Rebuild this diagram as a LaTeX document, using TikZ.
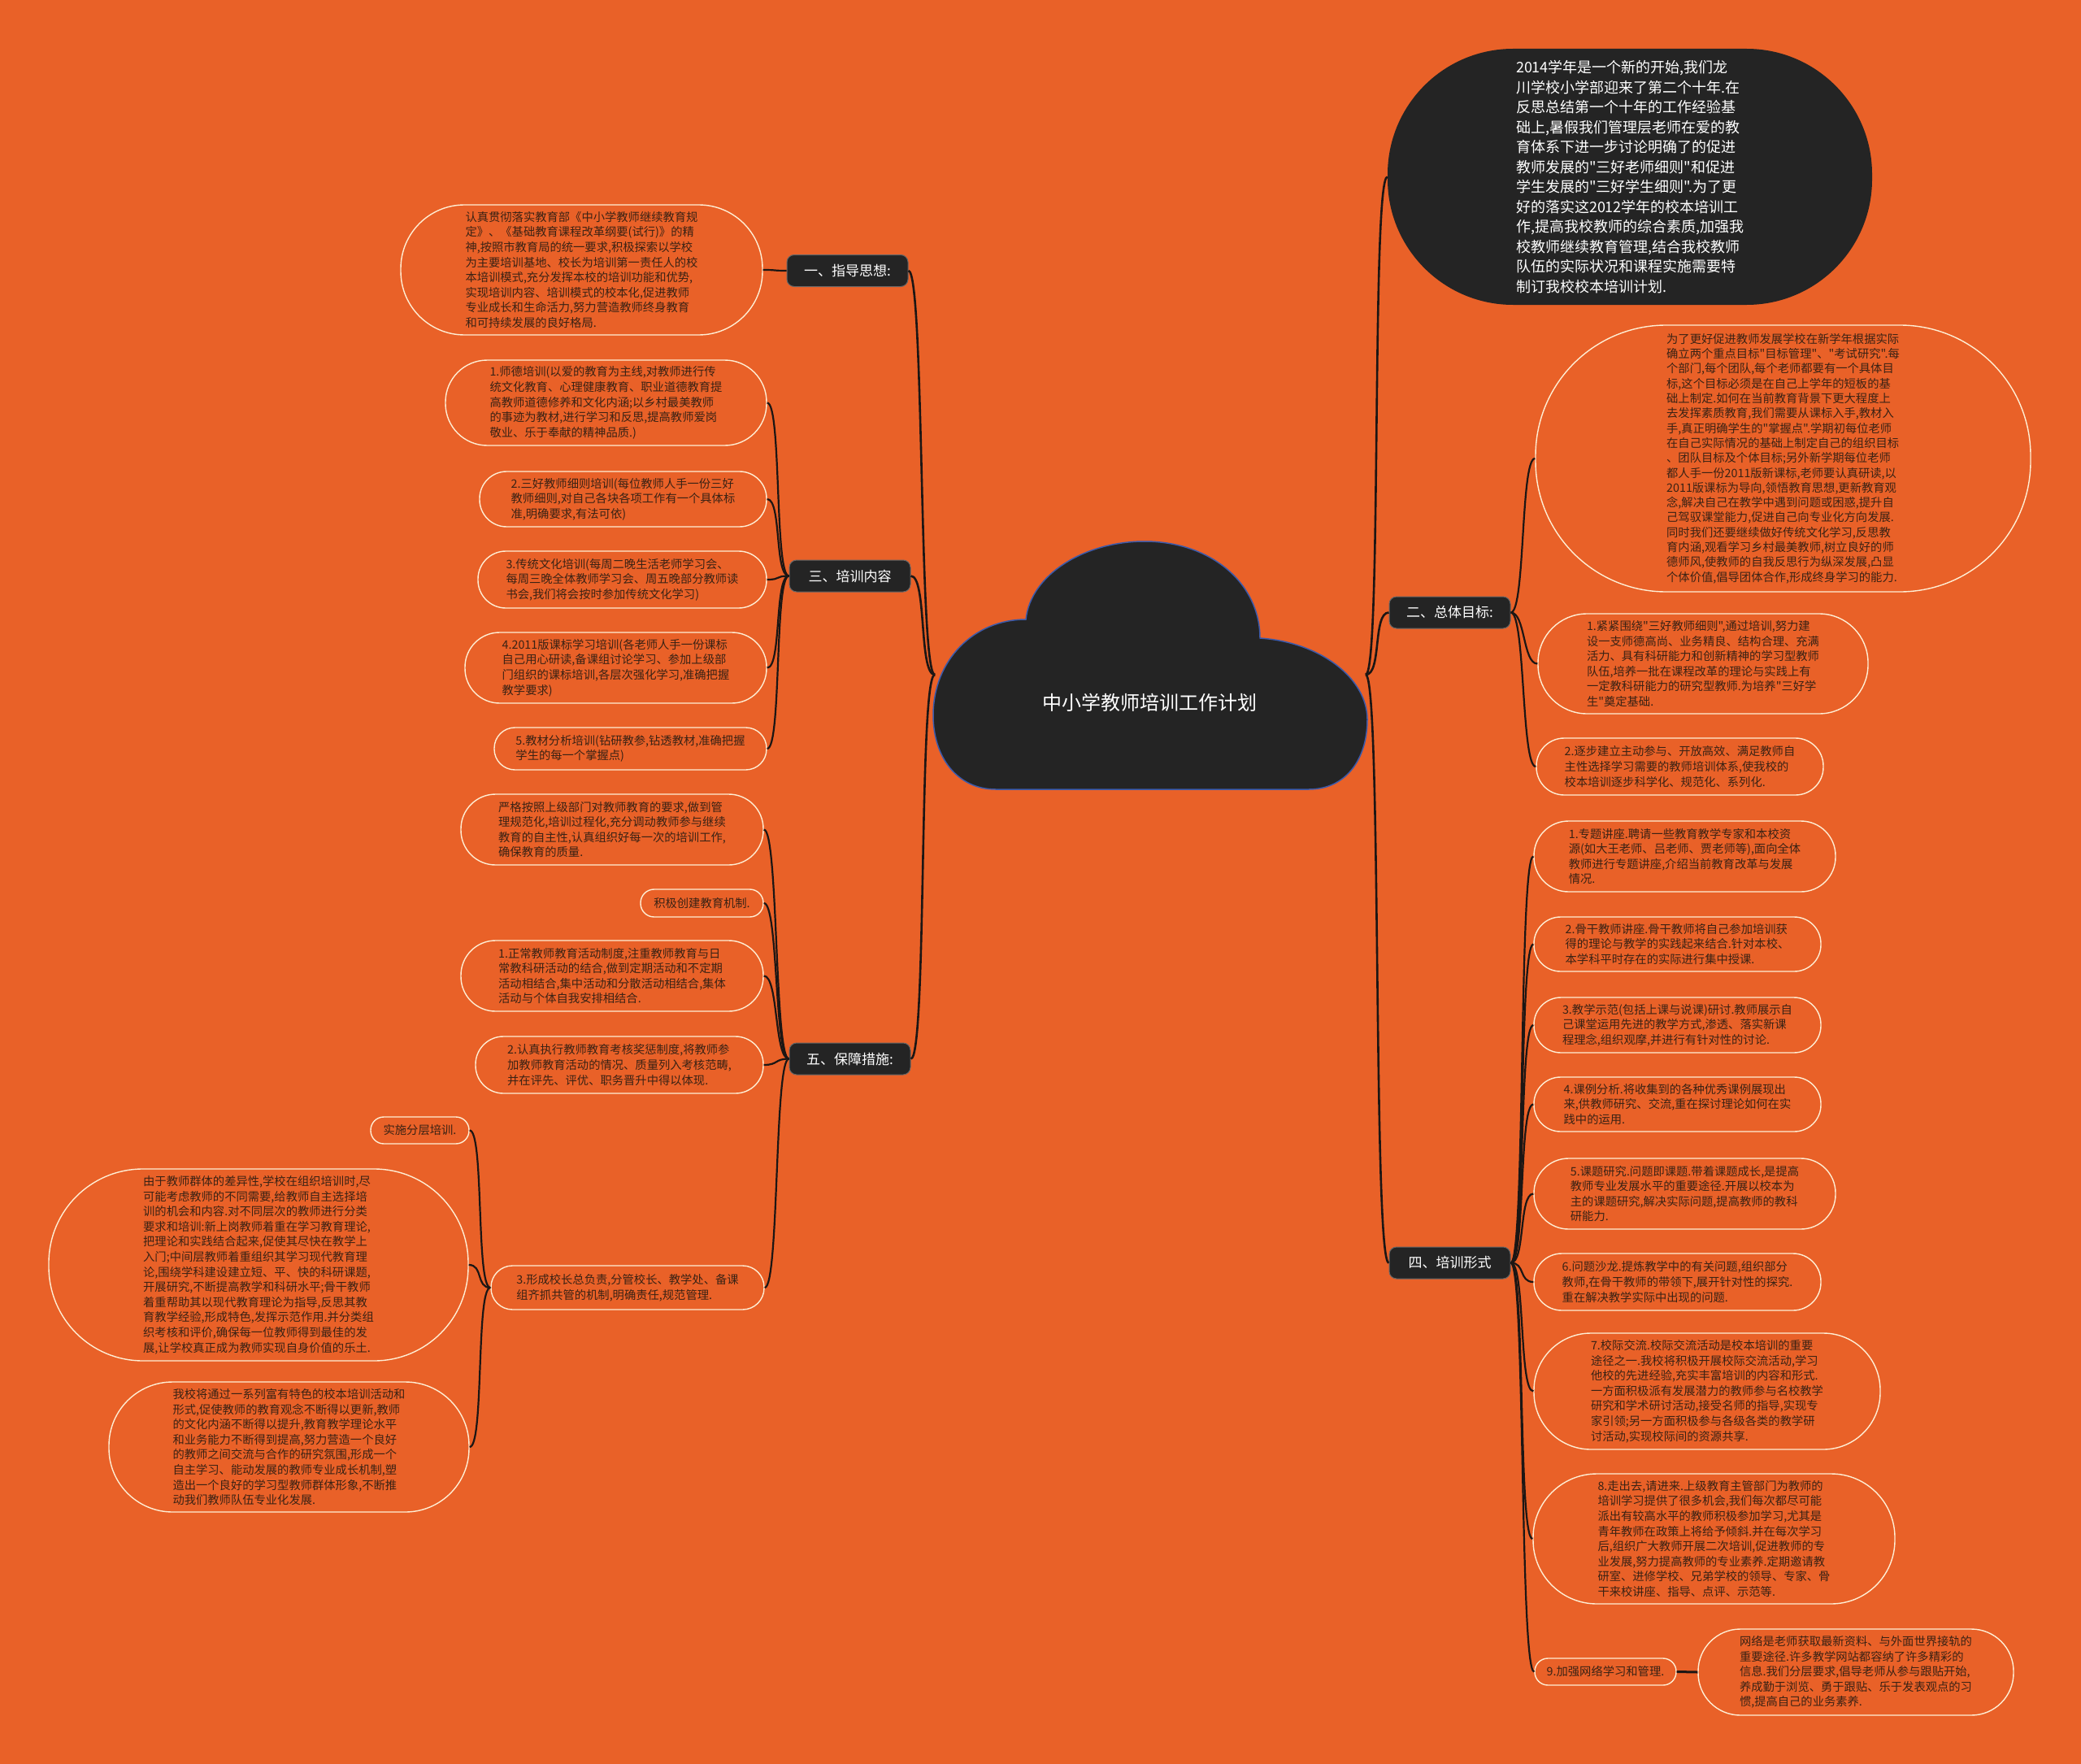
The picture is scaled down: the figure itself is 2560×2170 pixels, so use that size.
\documentclass[tikz,border=0pt]{standalone}
\usepackage{fontspec}
\setmainfont{Noto Sans CJK SC}[Ligatures=TeXOff]
\definecolor{bgorange}{RGB}{233,97,40}
\definecolor{leafline}{RGB}{255,238,212}
\definecolor{leaftext}{RGB}{58,34,20}
\definecolor{linkcol}{RGB}{28,22,20}
\definecolor{darkfill}{RGB}{36,36,36}
\definecolor{cloudline}{RGB}{60,90,170}
\newcommand\leaffont{\fontsize{14.3}{18.6}\selectfont}
\newcommand\bigleaffont{\fontsize{14.3}{18.3}\selectfont}
\newcommand\branchfont{\fontsize{17}{20}\selectfont}
\newcommand\rootfont{\fontsize{24}{28}\selectfont}
\newcommand\descfont{\fontsize{18}{24.5}\selectfont}
\tikzset{
  leafbox/.style 2 args={draw=leafline, line width=1.4pt, minimum width=#1pt, minimum height=#2pt,
    rounded corners=0.49*#2pt, inner sep=0pt, align=left, text=leaftext, font=\leaffont},
  branchbox/.style={draw=black!60, line width=1pt, fill=darkfill, rounded corners=9pt, minimum width=149pt,
    minimum height=39pt, inner sep=0pt, text=white, font=\branchfont},
  descbox/.style 2 args={fill=darkfill, minimum width=#1pt, minimum height=#2pt, rounded corners=0.49*#2pt,
    inner sep=0pt, align=left, text=white, font=\descfont},
  conn/.style={draw=linkcol, line width=2.2pt},
}
\newcommand\lconn[2]{\draw[conn] (#1.west) .. controls +(-18,0) and +(18,0) .. (#2.east);}
\newcommand\rconn[2]{\draw[conn] (#1.east) .. controls +(18,0) and +(-18,0) .. (#2.west);}
\begin{document}
\begin{tikzpicture}[x=1pt,y=-1pt]
\fill[bgorange] (0,0) rectangle (2560,2170);
\useasboundingbox (0,0) rectangle (2560,2170);

% ---------- root cloud ----------
\fill[darkfill, draw=cloudline, line width=1.5pt]
  (1225,971) .. controls (1178,971) and (1148,932) .. (1148,880)
  .. controls (1148,812) and (1198,762) .. (1262,762)
  .. controls (1268,706) and (1335,666) .. (1408,666)
  .. controls (1490,666) and (1550,718) .. (1550,785)
  .. controls (1625,790) and (1682,835) .. (1682,885)
  .. controls (1682,935) and (1655,971) .. (1610,971) -- cycle;
\node[text=white, font=\rootfont] (root) at (1414,864) {中小学教师培训工作计划};
\coordinate (rootL) at (1150,830);
\coordinate (rootR) at (1680,830);

% ---------- branches ----------
\node[branchbox] (b1) at (1042.5,333) {一、指导思想:};
\node[branchbox] (b3) at (1045.5,708.5) {三、培训内容};
\node[branchbox] (b5) at (1045.5,1302.5) {五、保障措施:};
\node[branchbox] (b2) at (1783.5,753.5) {二、总体目标:};
\node[branchbox] (b4) at (1783.5,1553.5) {四、培训形式};
\node[descbox={596}{315}] (desc) at (2005,217.5) {2014学年是一个新的开始,我们龙\\川学校小学部迎来了第二个十年.在\\反思总结第一个十年的工作经验基\\础上,暑假我们管理层老师在爱的教\\育体系下进一步讨论明确了的促进\\教师发展的"三好老师细则"和促进\\学生发展的"三好学生细则".为了更\\好的落实这2012学年的校本培训工\\作,提高我校教师的综合素质,加强我\\校教师继续教育管理,结合我校教师\\队伍的实际状况和课程实施需要特\\制订我校校本培训计划.};

% ---------- 一 ----------
\node[leafbox={445}{160}] (g1) at (715.5,332) {认真贯彻落实教育部《中小学教师继续教育规\\定》、《基础教育课程改革纲要(试行)》的精\\神,按照市教育局的统一要求,积极探索以学校\\为主要培训基地、校长为培训第一责任人的校\\本培训模式,充分发挥本校的培训功能和优势,\\实现培训内容、培训模式的校本化,促进教师\\专业成长和生命活力,努力营造教师终身教育\\和可持续发展的良好格局.};

% ---------- 三 ----------
\node[leafbox={395}{105}] (c1) at (745.5,495.5) {1.师德培训(以爱的教育为主线,对教师进行传\\统文化教育、心理健康教育、职业道德教育提\\高教师道德修养和文化内涵;以乡村最美教师\\的事迹为教材,进行学习和反思,提高教师爱岗\\敬业、乐于奉献的精神品质.)};
\node[leafbox={353}{68}] (c2) at (766.5,614) {2.三好教师细则培训(每位教师人手一份三好\\教师细则,对自己各块各项工作有一个具体标\\准,明确要求,有法可依)};
\node[leafbox={355}{70}] (c3) at (765.5,713) {3.传统文化培训(每周二晚生活老师学习会、\\每周三晚全体教师学习会、周五晚部分教师读\\书会,我们将会按时参加传统文化学习)};
\node[leafbox={371}{87}] (c4) at (757.5,821.5) {4.2011版课标学习培训(各老师人手一份课标\\自己用心研读,备课组讨论学习、参加上级部\\门组织的课标培训,各层次强化学习,准确把握\\教学要求)};
\node[leafbox={335}{52}] (c5) at (775.5,921) {5.教材分析培训(钻研教参,钻透教材,准确把握\\学生的每一个掌握点)};

% ---------- 五 ----------
\node[leafbox={372}{87}] (e1) at (753,1020.5) {严格按照上级部门对教师教育的要求,做到管\\理规范化,培训过程化,充分调动教师参与继续\\教育的自主性,认真组织好每一次的培训工作,\\确保教育的质量.};
\node[leafbox={151}{34}] (e2) at (863.5,1111) {积极创建教育机制.};
\node[leafbox={372}{87}] (e3) at (753,1200.5) {1.正常教师教育活动制度,注重教师教育与日\\常教科研活动的结合,做到定期活动和不定期\\活动相结合,集中活动和分散活动相结合,集体\\活动与个体自我安排相结合.};
\node[leafbox={354}{70}] (e4) at (762,1310) {2.认真执行教师教育考核奖惩制度,将教师参\\加教师教育活动的情况、质量列入考核范畴,\\并在评先、评优、职务晋升中得以体现.};
\node[leafbox={336}{54}] (e5) at (772,1584) {3.形成校长总负责,分管校长、教学处、备课\\组齐抓共管的机制,明确责任,规范管理.};
\node[leafbox={121}{33}] (f1) at (516.5,1390.5) {实施分层培训.};
\node[leafbox={516}{236}] (f2) at (318,1556) {由于教师群体的差异性,学校在组织培训时,尽\\可能考虑教师的不同需要,给教师自主选择培\\训的机会和内容.对不同层次的教师进行分类\\要求和培训:新上岗教师着重在学习教育理论,\\把理论和实践结合起来,促使其尽快在教学上\\入门;中间层教师着重组织其学习现代教育理\\论,围绕学科建设建立短、平、快的科研课题,\\开展研究,不断提高教学和科研水平;骨干教师\\着重帮助其以现代教育理论为指导,反思其教\\育教学经验,形成特色,发挥示范作用.并分类组\\织考核和评价,确保每一位教师得到最佳的发\\展,让学校真正成为教师实现自身价值的乐土.};
\node[leafbox={443}{160}] (f3) at (355.5,1780) {我校将通过一系列富有特色的校本培训活动和\\形式,促使教师的教育观念不断得以更新,教师\\的文化内涵不断得以提升,教育教学理论水平\\和业务能力不断得到提高,努力营造一个良好\\的教师之间交流与合作的研究氛围,形成一个\\自主学习、能动发展的教师专业成长机制,塑\\造出一个良好的学习型教师群体形象,不断推\\动我们教师队伍专业化发展.};

% ---------- 二 ----------
\node[leafbox={609}{328}, font=\bigleaffont] (d1) at (2193.5,564) {为了更好促进教师发展学校在新学年根据实际\\确立两个重点目标"目标管理"、"考试研究".每\\个部门,每个团队,每个老师都要有一个具体目\\标,这个目标必须是在自己上学年的短板的基\\础上制定.如何在当前教育背景下更大程度上\\去发挥素质教育,我们需要从课标入手,教材入\\手,真正明确学生的"掌握点".学期初每位老师\\在自己实际情况的基础上制定自己的组织目标\\、团队目标及个体目标;另外新学期每位老师\\都人手一份2011版新课标,老师要认真研读,以\\2011版课标为导向,领悟教育思想,更新教育观\\念,解决自己在教学中遇到问题或困惑,提升自\\己驾驭课堂能力,促进自己向专业化方向发展.\\同时我们还要继续做好传统文化学习,反思教\\育内涵,观看学习乡村最美教师,树立良好的师\\德师风,使教师的自我反思行为纵深发展,凸显\\个体价值,倡导团体合作,形成终身学习的能力.};
\node[leafbox={406}{123}] (d2) at (2095,816.5) {1.紧紧围绕"三好教师细则",通过培训,努力建\\设一支师德高尚、业务精良、结构合理、充满\\活力、具有科研能力和创新精神的学习型教师\\队伍,培养一批在课程改革的理论与实践上有\\一定教科研能力的研究型教师.为培养"三好学\\生"奠定基础.};
\node[leafbox={353}{70}] (d3) at (2066.5,943) {2.逐步建立主动参与、开放高效、满足教师自\\主性选择学习需要的教师培训体系,使我校的\\校本培训逐步科学化、规范化、系列化.};

% ---------- 四 ----------
\node[leafbox={371}{87}] (h1) at (2072.5,1053.5) {1.专题讲座.聘请一些教育教学专家和本校资\\源(如大王老师、吕老师、贾老师等),面向全体\\教师进行专题讲座,介绍当前教育改革与发展\\情况.};
\node[leafbox={353}{67}] (h2) at (2063.5,1161.5) {2.骨干教师讲座.骨干教师将自己参加培训获\\得的理论与教学的实践起来结合.针对本校、\\本学科平时存在的实际进行集中授课.};
\node[leafbox={353}{68}] (h3) at (2063.5,1261) {3.教学示范(包括上课与说课)研讨.教师展示自\\己课堂运用先进的教学方式,渗透、落实新课\\程理念,组织观摩,并进行有针对性的讨论.};
\node[leafbox={353}{67}] (h4) at (2063.5,1358.5) {4.课例分析.将收集到的各种优秀课例展现出\\来,供教师研究、交流,重在探讨理论如何在实\\践中的运用.};
\node[leafbox={371}{87}] (h5) at (2072.5,1468.5) {5.课题研究.问题即课题.带着课题成长,是提高\\教师专业发展水平的重要途径.开展以校本为\\主的课题研究,解决实际问题,提高教师的教科\\研能力.};
\node[leafbox={353}{70}] (h6) at (2063.5,1577) {6.问题沙龙.提炼教学中的有关问题,组织部分\\教师,在骨干教师的带领下,展开针对性的探究.\\重在解决教学实际中出现的问题.};
\node[leafbox={426}{143}] (h7) at (2100,1711.5) {7.校际交流.校际交流活动是校本培训的重要\\途径之一.我校将积极开展校际交流活动,学习\\他校的先进经验,充实丰富培训的内容和形式.\\一方面积极派有发展潜力的教师参与名校教学\\研究和学术研讨活动,接受名师的指导,实现专\\家引领;另一方面积极参与各级各类的教学研\\讨活动,实现校际间的资源共享.};
\node[leafbox={445}{160}] (h8) at (2108.5,1893) {8.走出去,请进来.上级教育主管部门为教师的\\培训学习提供了很多机会,我们每次都尽可能\\派出有较高水平的教师积极参加学习,尤其是\\青年教师在政策上将给予倾斜.并在每次学习\\后,组织广大教师开展二次培训,促进教师的专\\业发展,努力提高教师的专业素养.定期邀请教\\研室、进修学校、兄弟学校的领导、专家、骨\\干来校讲座、指导、点评、示范等.};
\node[leafbox={174}{33}] (h9) at (1975,2056.5) {9.加强网络学习和管理.};
\node[leafbox={388}{106}] (k1) at (2283,2057) {网络是老师获取最新资料、与外面世界接轨的\\重要途径.许多教学网站都容纳了许多精彩的\\信息.我们分层要求,倡导老师从参与跟贴开始,\\养成勤于浏览、勇于跟贴、乐于发表观点的习\\惯,提高自己的业务素养.};

% ---------- connectors ----------
\draw[conn, line width=2.6pt] (rootL) .. controls +(-20,0) and +(20,0) .. (b1.east);
\draw[conn, line width=2.6pt] (rootL) .. controls +(-20,0) and +(20,0) .. (b3.east);
\draw[conn, line width=2.6pt] (rootL) .. controls +(-20,0) and +(20,0) .. (b5.east);
\draw[conn, line width=2.6pt] (rootR) .. controls +(20,0) and +(-20,0) .. (desc.west);
\draw[conn, line width=2.6pt] (rootR) .. controls +(20,0) and +(-20,0) .. (b2.west);
\draw[conn, line width=2.6pt] (rootR) .. controls +(20,0) and +(-20,0) .. (b4.west);

\lconn{b1}{g1}
\lconn{b3}{c1}\lconn{b3}{c2}\lconn{b3}{c3}\lconn{b3}{c4}\lconn{b3}{c5}
\lconn{b5}{e1}\lconn{b5}{e2}\lconn{b5}{e3}\lconn{b5}{e4}\lconn{b5}{e5}
\lconn{e5}{f1}\lconn{e5}{f2}\lconn{e5}{f3}
\rconn{b2}{d1}\rconn{b2}{d2}\rconn{b2}{d3}
\rconn{b4}{h1}\rconn{b4}{h2}\rconn{b4}{h3}\rconn{b4}{h4}\rconn{b4}{h5}
\rconn{b4}{h6}\rconn{b4}{h7}\rconn{b4}{h8}\rconn{b4}{h9}
\draw[conn, line width=3pt] (h9.east) -- (k1.west);
\end{tikzpicture}
\end{document}
